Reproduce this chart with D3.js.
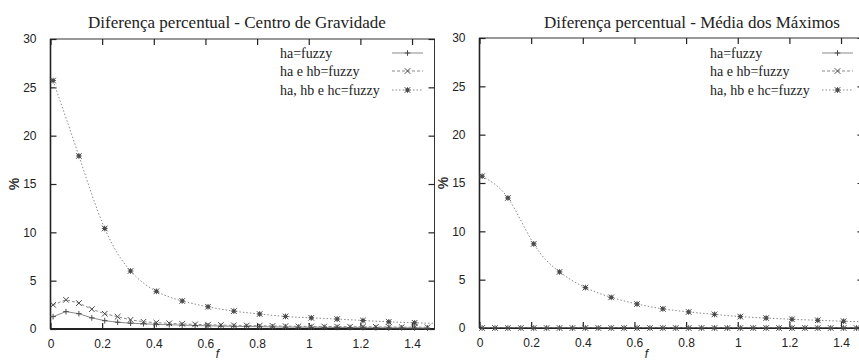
<!DOCTYPE html>
<html>
<head>
<meta charset="utf-8">
<script src="https://cdn.jsdelivr.net/npm/d3@7"></script>
<style>
  html, body { margin: 0; padding: 0; background: #fff; }
  svg { display: block; }
</style>
</head>
<body>
<svg id="chart" width="859" height="361"></svg>
<script>
// Sample positions of the parameter f
const xFine = [0.01, 0.06, 0.11, 0.16, 0.21, 0.26, 0.31, 0.36, 0.41, 0.46,
               0.51, 0.56, 0.61, 0.66, 0.71, 0.76, 0.81, 0.86, 0.91, 0.96,
               1.01, 1.06, 1.11, 1.16, 1.21, 1.26, 1.31, 1.36, 1.41, 1.46];
const xCoarse = [0.01, 0.11, 0.21, 0.31, 0.41, 0.51, 0.61, 0.71, 0.81, 0.91,
                 1.01, 1.11, 1.21, 1.31, 1.41, 1.51];

// Centro de Gravidade (%)
const cgHa = [1.28, 1.80, 1.58, 1.15, 0.86, 0.70, 0.60, 0.54, 0.48, 0.44,
              0.40, 0.36, 0.33, 0.30, 0.28, 0.26, 0.24, 0.22, 0.20, 0.19,
              0.18, 0.17, 0.16, 0.15, 0.14, 0.13, 0.12, 0.12, 0.11, 0.10];
const cgHaHb = [2.50, 3.02, 2.68, 2.05, 1.58, 1.27, 0.95, 0.75, 0.66, 0.59,
                0.53, 0.48, 0.44, 0.41, 0.38, 0.36, 0.34, 0.32, 0.30, 0.28,
                0.27, 0.26, 0.25, 0.24, 0.23, 0.22, 0.21, 0.20, 0.19, 0.18];
const cgHaHbHc = [25.7, 17.9, 10.4, 6.0, 3.9, 2.9, 2.3, 1.85, 1.55, 1.3,
                  1.15, 1.03, 0.88, 0.74, 0.64, 0.58];

// Média dos Máximos (%)
const mmHa = [0, 0, 0, 0, 0, 0, 0, 0, 0, 0, 0, 0, 0, 0, 0,
              0, 0, 0, 0, 0, 0, 0, 0, 0, 0, 0, 0, 0, 0, 0];
const mmHaHb = [0, 0, 0, 0, 0, 0, 0, 0, 0, 0, 0, 0, 0, 0, 0,
                0, 0, 0, 0, 0, 0, 0, 0, 0, 0, 0, 0, 0, 0, 0];
const mmHaHbHc = [15.7, 13.45, 8.7, 5.8, 4.18, 3.17, 2.48, 1.98, 1.66, 1.41,
                  1.18, 1.03, 0.90, 0.80, 0.70, 0.62];

const seriesNames = ["ha=fuzzy", "ha e hb=fuzzy", "ha, hb e hc=fuzzy"];
const xTicks = [0, 0.2, 0.4, 0.6, 0.8, 1, 1.2, 1.4];
const yTicks = [0, 5, 10, 15, 20, 25, 30];
const titles = ["Diferença percentual - Centro de Gravidade",
                "Diferença percentual - Média dos Máximos"];

const svg = d3.select("#chart");

const panels = [
  { left: 50.5, right: 434.5, top: 39, bottom: 329, title: titles[0], titleX: 237,
    legendX: 280, data: [cgHa, cgHaHb, cgHaHbHc] },
  { left: 479.5, right: 863.5, top: 38, bottom: 328, title: titles[1], titleX: 692,
    legendX: 710, data: [mmHa, mmHaHb, mmHaHbHc] }
];

const lineColor = "#8a8a8a";
const markColor = "#4a4a4a";
const dashes = [null, "3,2", "1.5,2"];

function marker(g, type, cx, cy) {
  const s = 2.8;
  const m = g.append("g").attr("transform", `translate(${cx},${cy})`)
    .attr("stroke", markColor).attr("stroke-width", 1).attr("fill", "none");
  if (type === 0 || type === 2) {
    m.append("line").attr("x1", -s).attr("x2", s).attr("y1", 0).attr("y2", 0);
    m.append("line").attr("x1", 0).attr("x2", 0).attr("y1", -s).attr("y2", s);
  }
  if (type === 1 || type === 2) {
    m.append("line").attr("x1", -s).attr("x2", s).attr("y1", -s).attr("y2", s);
    m.append("line").attr("x1", -s).attr("x2", s).attr("y1", s).attr("y2", -s);
  }
  if (type === 2) {
    m.append("rect").attr("x", -1.6).attr("y", -1.6).attr("width", 3.2).attr("height", 3.2)
      .attr("fill", markColor).attr("stroke", "none");
  }
}

panels.forEach((p, pi) => {
  const x = d3.scaleLinear().domain([0, 1.487]).range([p.left, p.right]);
  const y = d3.scaleLinear().domain([0, 30]).range([p.bottom, p.top]);
  const g = svg.append("g");

  const clipId = "clip" + pi;
  svg.append("clipPath").attr("id", clipId).append("rect")
    .attr("x", p.left).attr("y", p.top)
    .attr("width", p.right - p.left).attr("height", p.bottom - p.top);

  // Frame
  g.append("rect").attr("x", p.left).attr("y", p.top)
    .attr("width", p.right - p.left).attr("height", p.bottom - p.top)
    .attr("fill", "none").attr("stroke", "#333").attr("stroke-width", 1);
  g.append("line").attr("x1", p.left).attr("x2", p.right)
    .attr("y1", p.bottom).attr("y2", p.bottom)
    .attr("stroke", "#222").attr("stroke-width", 2);
  g.append("line").attr("x1", p.left).attr("x2", p.left)
    .attr("y1", p.top).attr("y2", p.bottom)
    .attr("stroke", "#222").attr("stroke-width", 1.6);

  // Axes: inward ticks on all four sides
  const tickStyle = sel => {
    sel.select(".domain").remove();
    sel.selectAll(".tick line").attr("stroke", "#222").attr("stroke-width", 1.2);
    sel.selectAll(".tick text").attr("fill", "#222")
      .style("font-family", "'Liberation Sans', Arial, sans-serif")
      .style("font-size", "12px");
  };
  g.append("g").attr("transform", `translate(0,${p.bottom})`)
    .call(d3.axisBottom(x).tickValues(xTicks).tickSizeInner(-6).tickPadding(10)
      .tickFormat(d3.format("~g")))
    .call(tickStyle);
  g.append("g").attr("transform", `translate(0,${p.top})`)
    .call(d3.axisTop(x).tickValues(xTicks).tickSizeInner(-6).tickFormat(""))
    .call(tickStyle);
  g.append("g").attr("transform", `translate(${p.left},0)`)
    .call(d3.axisLeft(y).tickValues(yTicks).tickSizeInner(-6).tickPadding(14))
    .call(tickStyle);
  g.append("g").attr("transform", `translate(${p.right},0)`)
    .call(d3.axisRight(y).tickValues(yTicks).tickSizeInner(-6).tickFormat(""))
    .call(tickStyle);

  // Title and axis labels
  g.append("text").attr("x", p.titleX).attr("y", 28).attr("text-anchor", "middle")
    .style("font-family", "'Liberation Serif', 'Times New Roman', serif")
    .style("font-size", "17px").attr("fill", "#222").text(p.title);
  g.append("text").attr("transform", `translate(${p.left - 32},${(p.top + p.bottom) / 2}) rotate(-90)`)
    .attr("text-anchor", "middle")
    .style("font-family", "'Liberation Sans', Arial, sans-serif")
    .style("font-size", "14px").style("font-weight", "bold").attr("fill", "#333").text("%");
  g.append("text").attr("x", (p.left + p.right) / 2 - 25).attr("y", 358).attr("text-anchor", "middle")
    .style("font-family", "'Liberation Sans', Arial, sans-serif")
    .style("font-size", "12px").style("font-style", "italic").attr("fill", "#222").text("f");

  // Series
  p.data.forEach((vals, si) => {
    const xs = si === 2 ? xCoarse : xFine;
    const pts = vals.map((v, i) => [xs[i], v]);
    const line = d3.line().x(d => x(d[0])).y(d => y(d[1]))
      .curve(si === 2 ? d3.curveNatural : d3.curveLinear);
    g.append("path").attr("d", line(pts)).attr("clip-path", `url(#${clipId})`)
      .attr("fill", "none").attr("stroke", lineColor).attr("stroke-width", 1)
      .attr("stroke-dasharray", dashes[si]);
    pts.filter(d => d[0] <= 1.487).forEach(d => marker(g, si, x(d[0]), y(d[1])));
  });

  // Legend
  const rowsY = [53, 71, 90];
  seriesNames.forEach((name, si) => {
    g.append("text").attr("x", p.legendX).attr("y", rowsY[si] + 5)
      .style("font-family", "'Liberation Serif', 'Times New Roman', serif")
      .style("font-size", "14px").attr("fill", "#222").text(name);
    const lx1 = p.legendX + 112, lx2 = p.legendX + 143;
    g.append("line").attr("x1", lx1).attr("x2", lx2).attr("y1", rowsY[si]).attr("y2", rowsY[si])
      .attr("stroke", lineColor).attr("stroke-width", 1).attr("stroke-dasharray", dashes[si]);
    marker(g, si, (lx1 + lx2) / 2, rowsY[si]);
  });
});
</script>
</body>
</html>
